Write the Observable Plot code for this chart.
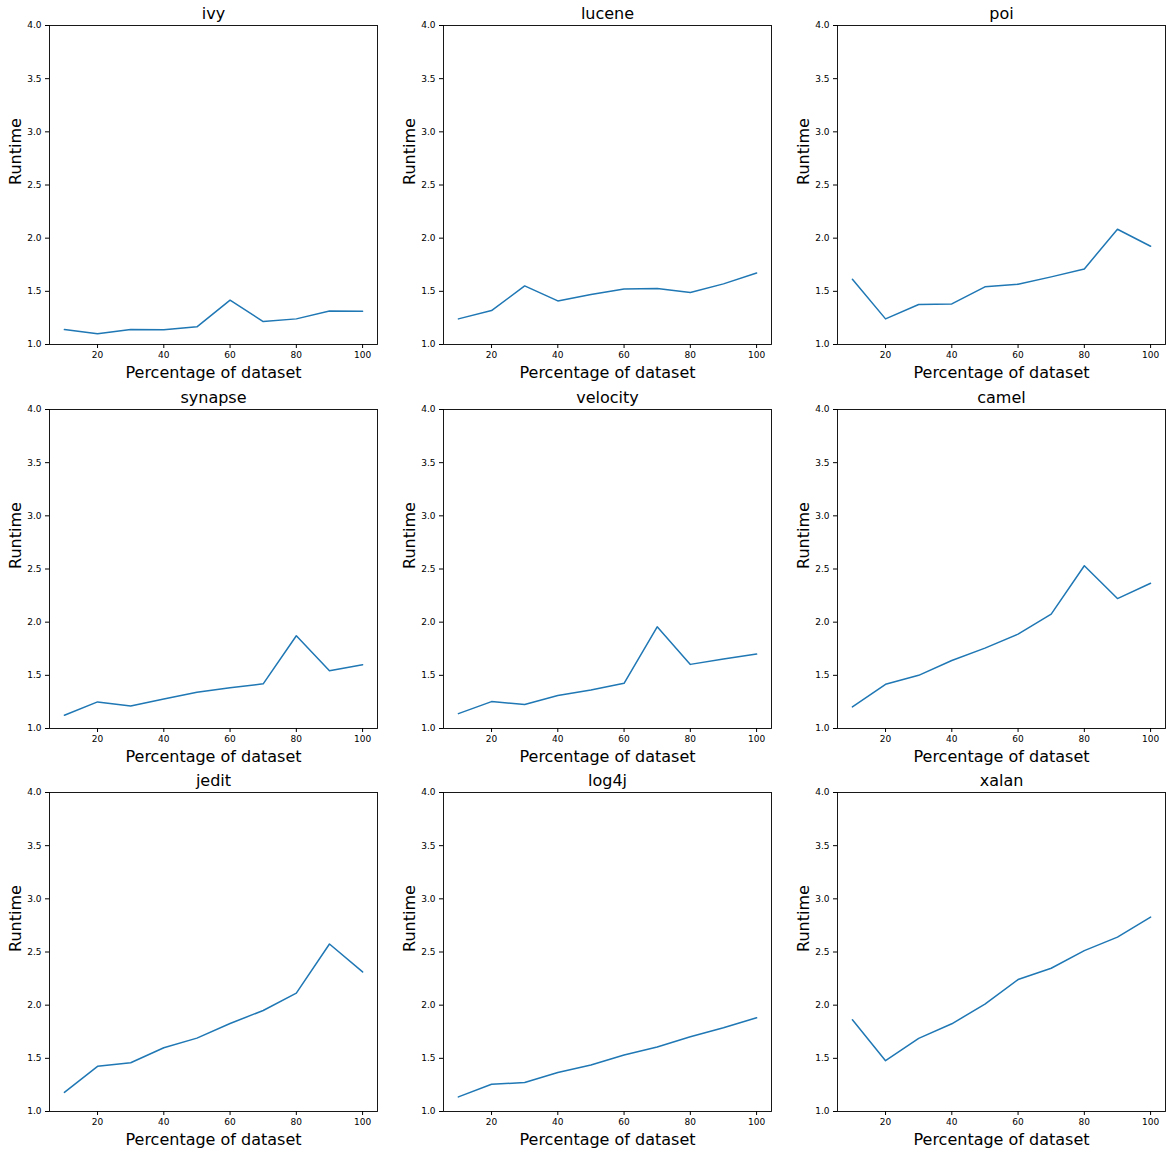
<!DOCTYPE html>
<html>
<head>
<meta charset="utf-8">
<script src="https://cdn.jsdelivr.net/npm/d3@7"></script>
<script src="https://cdn.jsdelivr.net/npm/@observablehq/plot@0.6"></script>
<style>
  html, body { margin: 0; padding: 0; background: #fff; }
  #chart { position: relative; width: 1172px; height: 1155px; background: #fff; overflow: hidden; }
  #chart > div { position: absolute; width: 394px; height: 384px; }
  #chart svg { max-width: none !important; }
</style>
</head>
<body>
<div id="chart"></div>
<script>
const projects = ["ivy", "lucene", "poi", "synapse", "velocity", "camel", "jedit", "log4j", "xalan"];
const percentages = [10, 20, 30, 40, 50, 60, 70, 80, 90, 100];
const ivy      = [1.14, 1.10, 1.14, 1.138, 1.166, 1.417, 1.216, 1.241, 1.316, 1.313];
const lucene   = [1.241, 1.319, 1.551, 1.41, 1.47, 1.523, 1.526, 1.489, 1.57, 1.673];
const poi      = [1.614, 1.241, 1.376, 1.382, 1.542, 1.567, 1.636, 1.711, 2.084, 1.924];
const synapse  = [1.125, 1.25, 1.2125, 1.278, 1.34, 1.384, 1.42, 1.872, 1.544, 1.60];
const velocity = [1.14, 1.253, 1.225, 1.31, 1.3625, 1.425, 1.956, 1.603, 1.653, 1.70];
const camel    = [1.203, 1.416, 1.50, 1.64, 1.756, 1.8875, 2.075, 2.531, 2.222, 2.366];
const jedit    = [1.18, 1.425, 1.459, 1.60, 1.69, 1.828, 1.95, 2.1125, 2.575, 2.3125];
const log4j    = [1.1375, 1.256, 1.272, 1.366, 1.4375, 1.531, 1.606, 1.703, 1.788, 1.881];
const xalan    = [1.8625, 1.478, 1.6875, 1.825, 2.009, 2.2406, 2.347, 2.5125, 2.64, 2.828];
const seriesValues = [ivy, lucene, poi, synapse, velocity, camel, jedit, log4j, xalan];
const xTicks = [20, 40, 60, 80, 100];
const yTicks = [1.0, 1.5, 2.0, 2.5, 3.0, 3.5, 4.0];
const xLabel = "Percentage of dataset";
const yLabel = "Runtime";

const container = document.getElementById("chart");
projects.forEach((name, i) => {
  const col = i % 3, row = Math.floor(i / 3);
  const data = percentages.map((p, j) => ({pct: p, runtime: seriesValues[i][j]}));
  const plot = Plot.plot({
    width: 394,
    height: 384,
    marginLeft: 49,
    marginRight: 17,
    marginTop: 25,
    marginBottom: 40,
    style: {fontFamily: "DejaVu Sans", fontSize: "9px", color: "black", background: "white", overflow: "visible", maxWidth: "none"},
    x: {domain: [5.5, 104.5]},
    y: {domain: [1, 4]},
    marks: [
      Plot.axisX({ticks: xTicks, tickSize: 4, tickPadding: 3, tickFormat: d => String(d), label: null, fontSize: 9}),
      Plot.axisY({ticks: yTicks, tickSize: 4, tickPadding: 4, tickFormat: d => d.toFixed(1), label: null, fontSize: 9}),
      Plot.line(data, {x: "pct", y: "runtime", stroke: "#1f77b4", strokeWidth: 1.5}),
      Plot.frame({stroke: "black", strokeWidth: 0.9}),
      Plot.text([name], {frameAnchor: "top", lineAnchor: "middle", dy: -12, fontSize: 16, fill: "black"}),
      Plot.text([xLabel], {frameAnchor: "bottom", lineAnchor: "middle", dy: 28, fontSize: 16, fill: "black"}),
      Plot.text([yLabel], {frameAnchor: "left", lineAnchor: "middle", dx: -34, rotate: -90, fontSize: 16, fill: "black"})
    ]
  });
  const wrap = document.createElement("div");
  wrap.style.left = (col * 394) + "px";
  wrap.style.top = Math.round(row * 383.5) + "px";
  wrap.appendChild(plot);
  container.appendChild(wrap);
});
</script>
</body>
</html>
